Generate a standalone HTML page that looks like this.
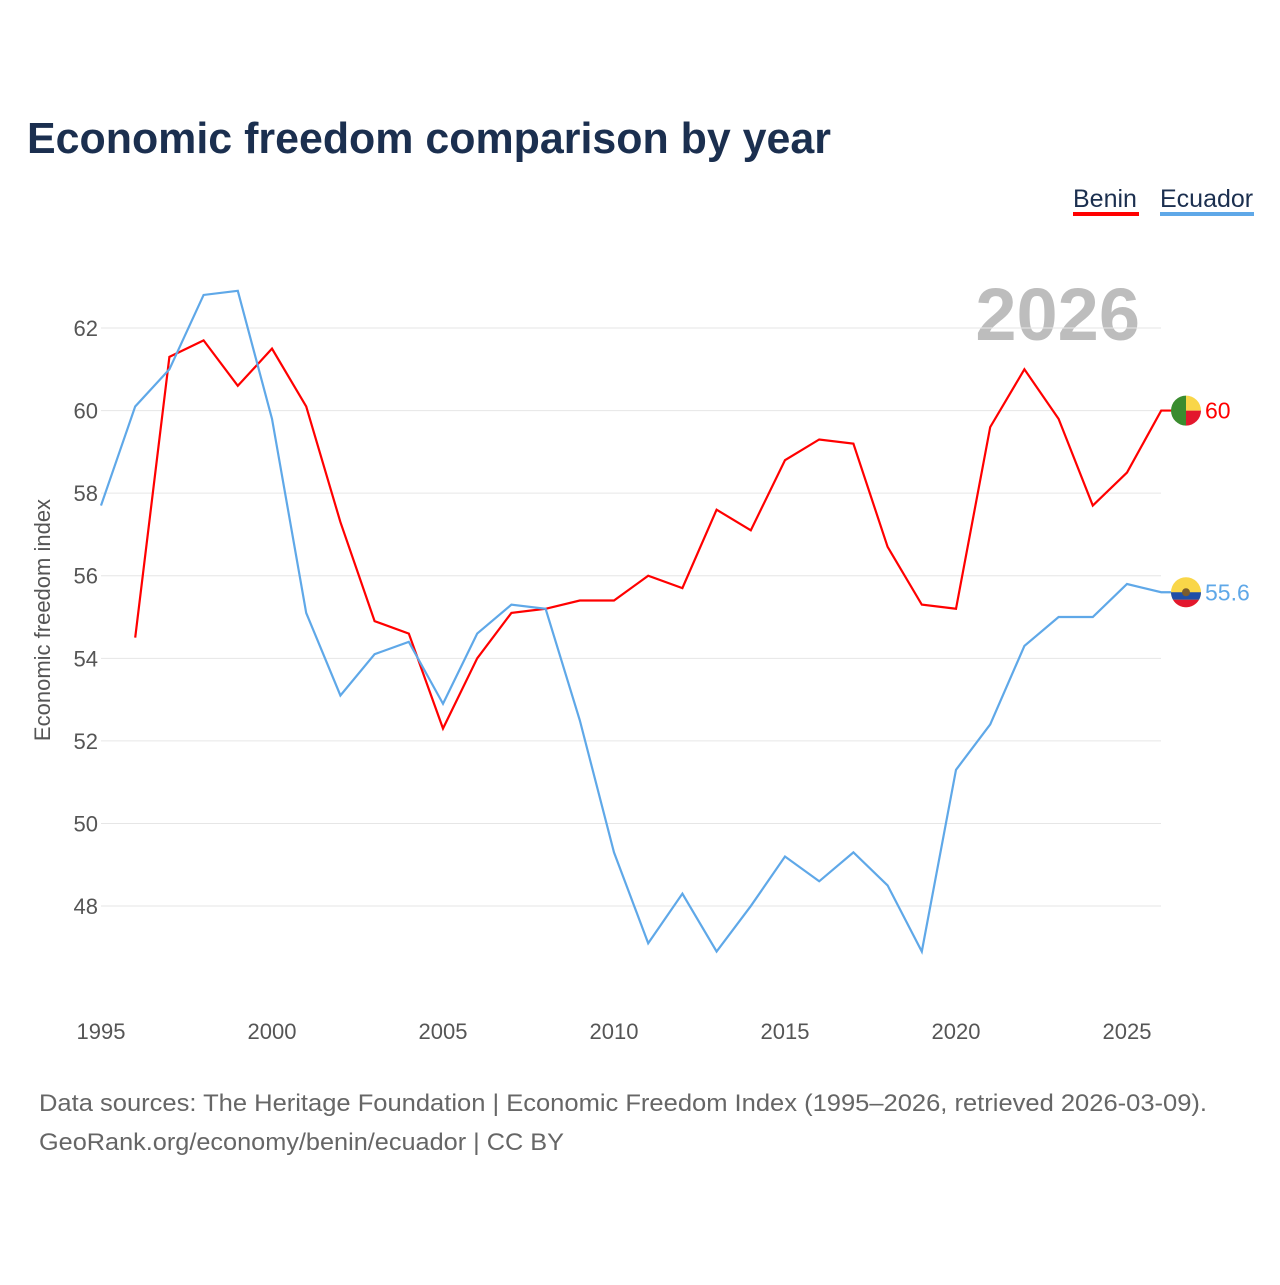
<!DOCTYPE html>
<html><head><meta charset="utf-8"><style>
body{margin:0;background:#fff;width:1280px;height:1280px;overflow:hidden;font-family:"Liberation Sans",sans-serif}
svg text{font-family:"Liberation Sans",sans-serif}
</style></head><body>
<svg width="1280" height="1280">
<text x="27" y="153" font-size="44" font-weight="bold" fill="#1b2f4f" textLength="804" lengthAdjust="spacingAndGlyphs">Economic freedom comparison by year</text>
<g>
<text x="1073" y="207" font-size="25" fill="#1b2f4f">Benin</text>
<rect x="1073" y="212" width="66" height="4" fill="#ff0000"/>
<text x="1160" y="207" font-size="25" fill="#1b2f4f">Ecuador</text>
<rect x="1160" y="212" width="94" height="4" fill="#5fa8e8"/>
</g>
<text x="1140" y="340" font-size="74" font-weight="bold" fill="#bdbdbd" text-anchor="end">2026</text>
<g id="grid"></g>
<g id="xt"></g>
<g id="yt"></g>
<text transform="translate(50,620) rotate(-90)" font-size="22" fill="#555" text-anchor="middle">Economic freedom index</text>
<g id="lines"></g>
<text x="39" y="1111" font-size="24" fill="#666" textLength="1168" lengthAdjust="spacingAndGlyphs">Data sources: The Heritage Foundation | Economic Freedom Index (1995–2026, retrieved 2026-03-09).</text>
<text x="39" y="1150" font-size="24" fill="#666" textLength="525" lengthAdjust="spacingAndGlyphs">GeoRank.org/economy/benin/ecuador | CC BY</text>
</svg>
<script>
const years=[1995,1996,1997,1998,1999,2000,2001,2002,2003,2004,2005,2006,2007,2008,2009,2010,2011,2012,2013,2014,2015,2016,2017,2018,2019,2020,2021,2022,2023,2024,2025,2026];
const benin=[null,54.5,61.3,61.7,60.6,61.5,60.1,57.3,54.9,54.6,52.3,54.0,55.1,55.2,55.4,55.4,56.0,55.7,57.6,57.1,58.8,59.3,59.2,56.7,55.3,55.2,59.6,61.0,59.8,57.7,58.5,60.0];
const ecuador=[57.7,60.1,61.0,62.8,62.9,59.8,55.1,53.1,54.1,54.4,52.9,54.6,55.3,55.2,52.5,49.3,47.1,48.3,46.9,48.0,49.2,48.6,49.3,48.5,46.9,51.3,52.4,54.3,55.0,55.0,55.8,55.6];
const yTicks=[48,50,52,54,56,58,60,62];
const xTicks=[1995,2000,2005,2010,2015,2020,2025];
const NS="http://www.w3.org/2000/svg";
const X=y=>101+(y-1995)*34.2, Y=v=>328+(62-v)*41.29;
function mk(t,a,p){const e=document.createElementNS(NS,t);for(const k in a)e.setAttribute(k,a[k]);p.appendChild(e);return e;}
const g=document.getElementById('grid'),yt=document.getElementById('yt'),xt=document.getElementById('xt'),L=document.getElementById('lines');
yTicks.forEach(v=>{const l=mk('line',{x1:101,x2:1161,y1:Y(v),y2:Y(v),stroke:'#e6e6e6','stroke-width':1},g);


const t=mk('text',{x:98,y:Y(v)+8,'font-size':22,fill:'#555','text-anchor':'end'},yt);t.textContent=v;

});
xTicks.forEach(v=>{const t=mk('text',{x:X(v),y:1039,'font-size':22,fill:'#555','text-anchor':'middle'},xt);t.textContent=v;

});
function line(d,c,name){let s='';d.forEach((v,i)=>{if(v==null)return;s+=(s?'L':'M')+X(years[i])+','+Y(v);});
const last=d[d.length-1];const cy=Y(last);
s+='L1172,'+cy;
const p=mk('path',{d:s,fill:'none',stroke:c,'stroke-width':2.2},L);


const t=mk('text',{x:1205,y:cy+8,'font-size':23,fill:c},L);t.textContent=last;


return cy;}
const by=line(benin,'#ff0000','benin-line');
const ey=line(ecuador,'#5fa8e8','ecuador-line');
const fb=mk('g',{},L);


mk('path',{d:`M1186 ${by} m0 -15 a15 15 0 0 0 0 30 z`,fill:'#3a8c2f'},fb);
mk('path',{d:`M1186 ${by-15} a15 15 0 0 1 15 15 h-15 z`,fill:'#f9d648'},fb);
mk('path',{d:`M1186 ${by} h15 a15 15 0 0 1 -15 15 z`,fill:'#e3172d'},fb);
const fe=mk('g',{},L);


mk('circle',{cx:1186,cy:ey,r:15,fill:'#f9d648'},fe);
mk('path',{d:`M1171 ${ey} h30 a15 15 0 0 1 -2 7.5 h-26 a15 15 0 0 1 -2 -7.5z`,fill:'#1e4fa8'},fe);
mk('path',{d:`M1173 ${ey+7.5} h26 a15 15 0 0 1 -26 0z`,fill:'#e3172d'},fe);
mk('circle',{cx:1186,cy:ey,r:4,fill:'#7a5c2e'},fe);
</script>
</body></html>
